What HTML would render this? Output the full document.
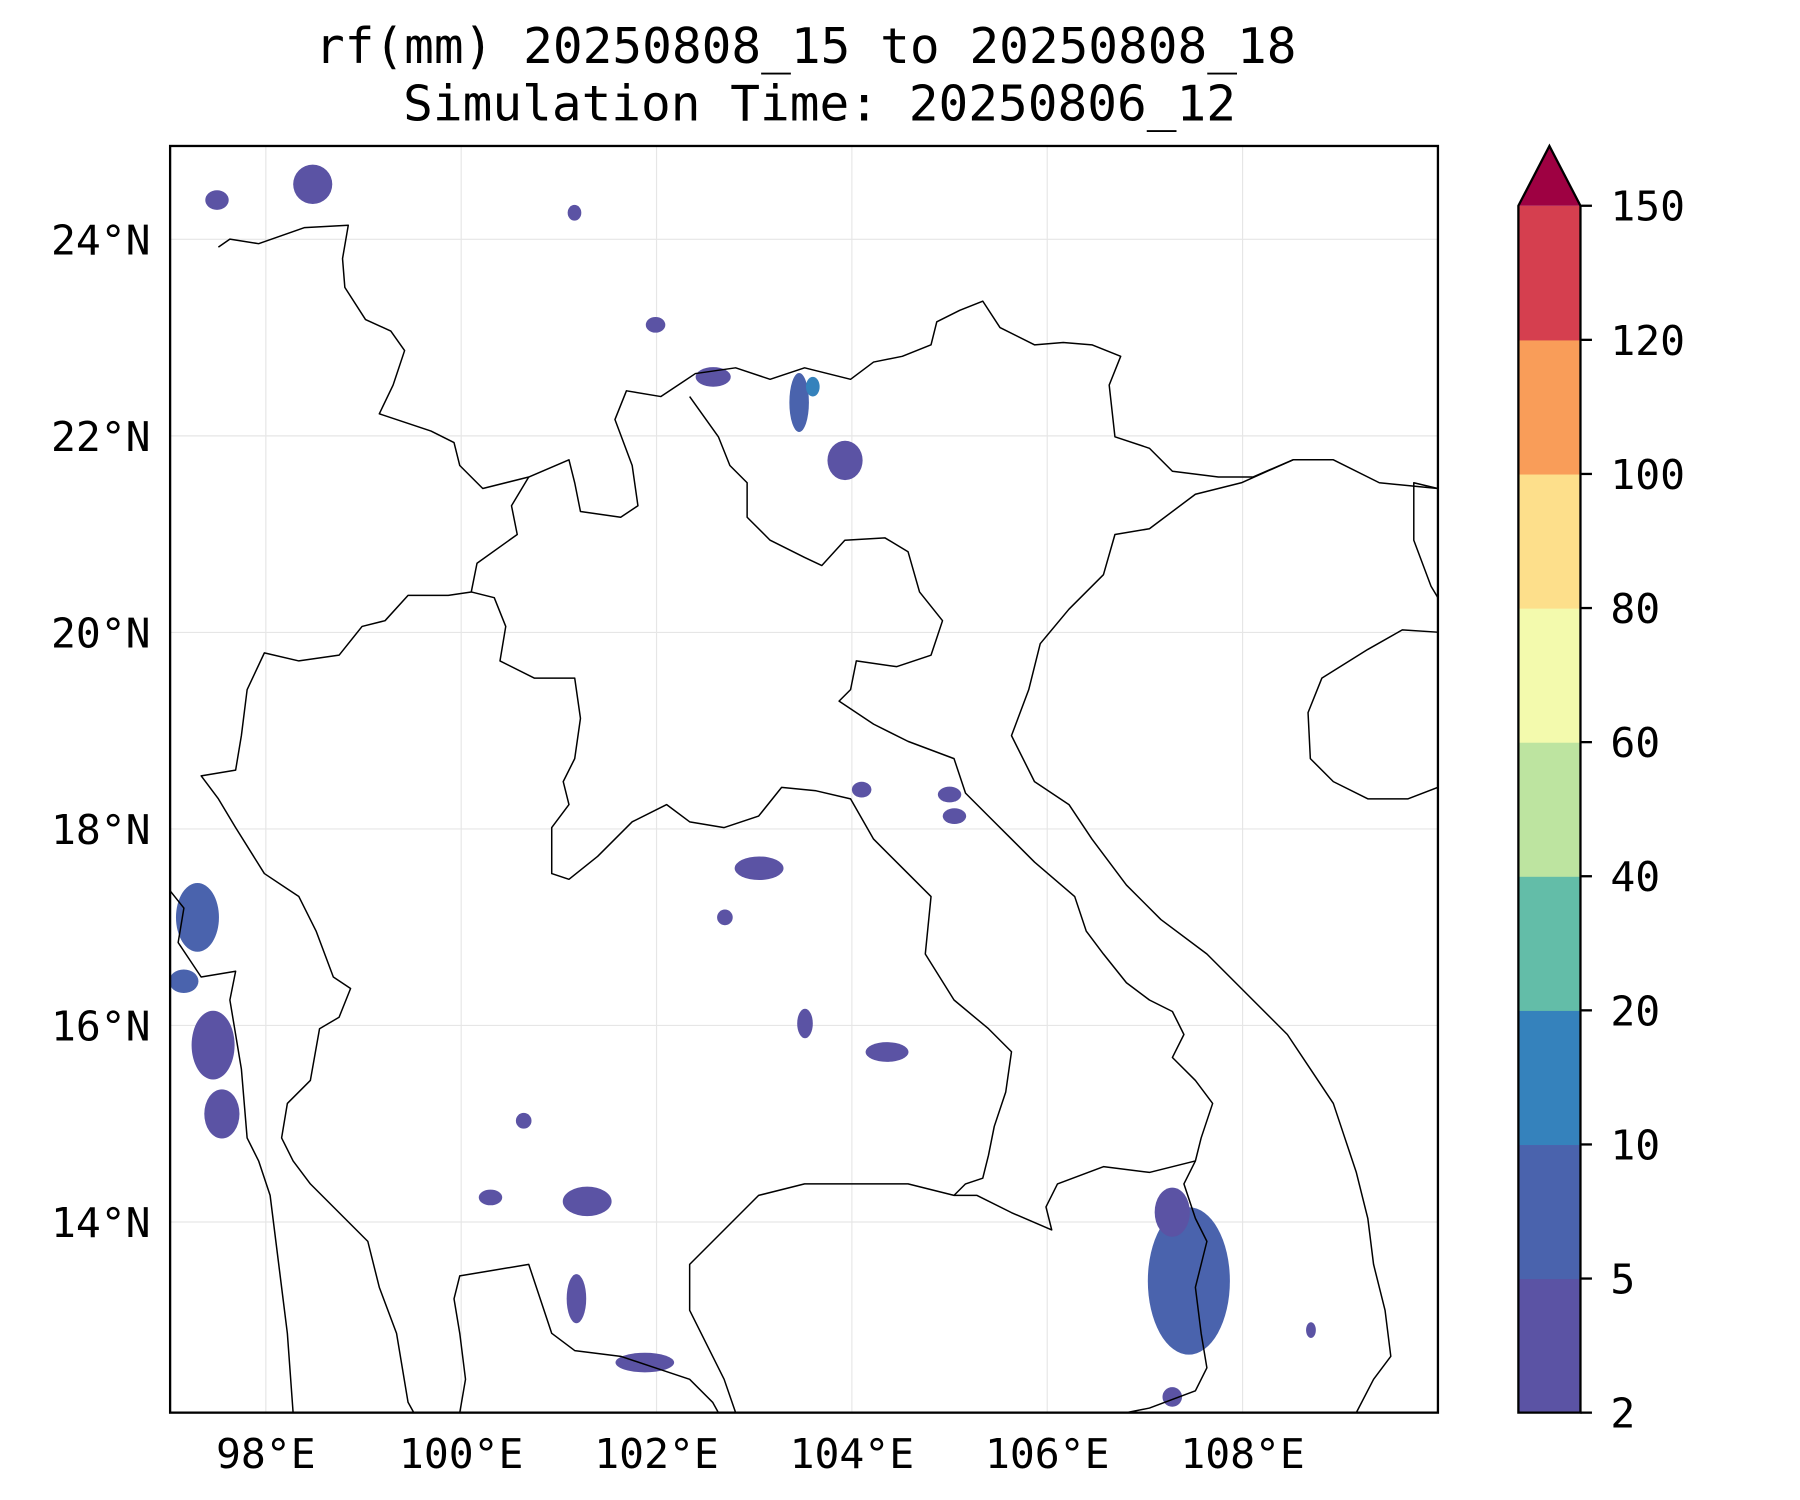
<!DOCTYPE html>
<html><head><meta charset="utf-8"><style>
html,body{margin:0;padding:0;background:#fff}
svg{display:block}
text{font-family:"DejaVu Sans Mono","Liberation Mono",monospace;fill:#000}
</style></head><body>
<svg id="chart" width="1800" height="1500" viewBox="0 0 1566 1305" xmlns="http://www.w3.org/2000/svg">
<rect width="1566" height="1305" fill="#fff"/>
<text x="701" y="55" font-size="43" text-anchor="middle">rf(mm) 20250808_15 to 20250808_18</text>
<text x="713" y="105" font-size="43" text-anchor="middle">Simulation Time: 20250806_12</text>
<defs><clipPath id="mapclip"><rect x="148" y="127" width="1103" height="1102"/></clipPath></defs>
<g id="grid"></g>
<g id="rain" clip-path="url(#mapclip)"></g>
<g id="borders" clip-path="url(#mapclip)" fill="none" stroke="#000" stroke-width="1.3" stroke-linejoin="round"></g>
<rect x="148" y="127" width="1103" height="1102" fill="none" stroke="#000" stroke-width="2"/>
<g id="xticks"></g>
<g id="yticks"></g>
<g id="cbar"></g>
</svg>
<script>
const lonTicks=[98,100,102,104,106,108];
const latTicks=[14,16,18,20,22,24];
const levels=[2,5,10,20,40,60,80,100,120,150];
const colors=['#5b53a4','#4a63ad','#3582bc','#63bda8','#bde4a0','#f3faad','#fddf8b','#f99d59','#d53f4f'];
const extendColor='#9e0142';
// rain blobs: lon, lat, x-radius (deg), y-radius (deg), value (mm)
const rainLon=[98.48,101.16,101.99,102.58,103.46,103.93,103.05,104.36,101.29,101.18,101.88,107.45,107.28,97.3,97.46,97.16,105.05,103.52,100.64,107.28,97.55,103.6,105.0,102.7,100.3,104.1,97.5,108.7];
const rainLat=[24.56,24.27,23.13,22.6,22.34,21.75,17.6,15.73,14.21,13.22,12.57,13.4,14.1,17.1,15.8,16.45,18.13,16.02,15.03,12.22,15.1,22.5,18.35,17.1,14.25,18.4,24.4,12.9];
const rainRx=[0.2,0.07,0.1,0.18,0.1,0.18,0.25,0.22,0.25,0.1,0.3,0.42,0.18,0.22,0.22,0.15,0.12,0.08,0.08,0.1,0.18,0.07,0.12,0.08,0.12,0.1,0.12,0.05];
const rainRy=[0.2,0.08,0.08,0.1,0.3,0.2,0.12,0.1,0.15,0.25,0.1,0.75,0.25,0.35,0.35,0.12,0.08,0.15,0.08,0.1,0.25,0.1,0.08,0.08,0.08,0.08,0.1,0.08];
const rainVal=[4,3,3,4,7,4,4,3,4,4,4,7,4,5,4,8,4,3,3,3,4,12,3,3,3,3,3,3];

const X0=148,X1=1251,Y0=127,Y1=1229,LON0=97.02,LON1=110.0,LAT0=12.06,LAT1=24.95;
function xs(lon){return X0+(lon-LON0)/(LON1-LON0)*(X1-X0);}
function ys(lat){return Y1-(lat-LAT0)/(LAT1-LAT0)*(Y1-Y0);}
const NS='http://www.w3.org/2000/svg';
function mk(tag,attrs,parent){const e=document.createElementNS(NS,tag);for(const k in attrs)e.setAttribute(k,attrs[k]);parent.appendChild(e);return e;}
function colorFor(v){for(let i=0;i<levels.length-1;i++){if(v<levels[i+1])return colors[i];}return extendColor;}

const grid=document.getElementById('grid'),xt=document.getElementById('xticks'),yt=document.getElementById('yticks');
lonTicks.forEach(l=>{
  const g=mk('line',{x1:xs(l),x2:xs(l),y1:Y0,y2:Y1,stroke:'#e6e6e6','stroke-width':1},grid);
  
  
  const t=mk('text',{x:xs(l),y:1277,'font-size':36,'text-anchor':'middle'},xt);
  t.textContent=l+'°E';
  
  
});
latTicks.forEach(l=>{
  const g=mk('line',{x1:X0,x2:X1,y1:ys(l),y2:ys(l),stroke:'#e6e6e6','stroke-width':1},grid);
  
  
  const t=mk('text',{x:131,y:ys(l)+13,'font-size':36,'text-anchor':'end'},yt);
  t.textContent=l+'°N';
  
  
});

const rain=document.getElementById('rain');
rainLon.forEach((lon,i)=>{
  const e=mk('ellipse',{cx:xs(lon),cy:ys(rainLat[i]),rx:rainRx[i]*85,ry:rainRy[i]*85.5,fill:colorFor(rainVal[i])},rain);
  
  
});

const lines=[
 [[190,215],[200,208],[225,212],[265,198],[303,196],[298,225],[300,250],[318,278],[340,288],[352,305],[342,335],[330,360],[375,375],[395,385],[400,405],[420,425],[460,415],[495,400],[500,420],[505,445],[540,450],[555,440],[550,405],[535,365],[545,340],[575,345],[605,325],[640,320],[670,330],[700,320],[720,325],[740,330],[760,315],[785,310],[810,300],[815,280],[835,270],[855,262],[870,285],[900,300],[925,298],[950,300],[975,310],[965,335],[970,380],[1000,390],[1020,410],[1060,415],[1090,415],[1125,400],[1160,400],[1200,420],[1251,425]],
 [[460,415],[445,440],[450,465],[415,490],[410,515],[390,518],[355,518],[335,540],[315,545],[295,570],[260,575],[230,568],[215,600],[210,640],[205,670],[175,675],[190,695],[205,720],[230,760],[260,780],[275,810],[290,850],[305,860],[295,885],[278,895],[270,940],[250,960],[245,990],[255,1010],[270,1030],[300,1060],[320,1080],[330,1120],[345,1160],[355,1220],[360,1229]],
 [[148,775],[160,790],[155,820],[165,835],[175,850],[205,845],[200,870],[210,930],[215,990],[225,1010],[235,1040],[240,1080],[245,1120],[250,1160],[255,1229]],
 [[410,515],[430,520],[440,545],[435,575],[465,590],[500,590],[505,625],[500,660],[490,680],[495,700],[480,720],[480,760],[495,765],[520,745],[550,715],[580,700],[600,715],[630,720],[660,710],[680,685],[710,688],[740,695],[760,730],[790,760],[810,780],[805,830],[830,870],[860,895],[880,915],[875,950],[865,980],[860,1005],[855,1025],[840,1030],[830,1040],[790,1030],[750,1030],[700,1030],[660,1040],[640,1060],[620,1080],[600,1100],[600,1140],[620,1180],[630,1200],[640,1229]],
 [[600,345],[625,380],[635,405],[650,420],[650,450],[670,470],[700,485],[715,492],[735,470],[770,468],[790,480],[800,515],[820,540],[810,570],[780,580],[745,575],[740,600],[730,610],[760,630],[790,645],[830,660],[840,690],[860,710],[880,730],[900,750],[935,780],[945,810],[960,830],[980,855],[1000,870],[1020,880],[1030,900],[1020,920],[1040,940],[1055,960],[1045,990],[1040,1010],[1000,1020],[960,1015],[920,1030],[910,1050],[915,1070],[880,1055],[850,1040],[830,1040]],
 [[1040,1010],[1030,1030],[1040,1060],[1050,1080],[1040,1120],[1045,1160],[1050,1190],[1040,1210],[1000,1225],[980,1229]],
 [[1125,400],[1080,420],[1040,430],[1000,460],[970,465],[960,500],[930,530],[905,560],[895,600],[880,640],[900,680],[930,700],[950,730],[980,770],[1010,800],[1050,830],[1080,860],[1100,880],[1120,900],[1140,930],[1160,960],[1170,990],[1180,1020],[1190,1060],[1195,1100],[1205,1140],[1210,1180],[1195,1200],[1180,1229]],
 [[1251,550],[1220,548],[1190,565],[1150,590],[1138,620],[1140,660],[1160,680],[1190,695],[1225,695],[1251,685]],
 [[1251,425],[1230,420],[1230,470],[1245,510],[1251,520]],
 [[400,1229],[405,1200],[400,1160],[395,1130],[400,1110],[430,1105],[460,1100],[470,1130],[480,1160],[500,1175],[540,1180],[570,1190],[600,1200],[620,1220],[625,1229]]
];
const borders=document.getElementById('borders');
lines.forEach(pts=>{
  const p=mk('polyline',{points:pts.map(q=>q.join(',')).join(' ')},borders);
  
  
});

const cb=document.getElementById('cbar');
const CX0=1321,CX1=1375,CY0=179,CY1=1229,nb=levels.length-1,bh=(CY1-CY0)/nb;
colors.forEach((c,i)=>{
  const r=mk('rect',{x:CX0,y:CY1-(i+1)*bh,width:CX1-CX0,height:bh+0.5,fill:c},cb);
  
  
});
const tri=mk('polygon',{points:`${CX0},${CY0} ${(CX0+CX1)/2},127 ${CX1},${CY0}`,fill:extendColor},cb);


const outline=mk('polygon',{points:`${CX0},${CY1} ${CX0},${CY0} ${(CX0+CX1)/2},127 ${CX1},${CY0} ${CX1},${CY1}`,fill:'none',stroke:'#000','stroke-width':2},cb);


levels.forEach((lv,i)=>{
  const y=CY1-i*bh;
  const tk=mk('line',{x1:CX1,x2:CX1+10,y1:y,y2:y,stroke:'#000','stroke-width':2},cb);
  
  
  const t=mk('text',{x:1401,y:y+13,'font-size':36},cb);
  t.textContent=lv;
  
  
});
</script>
</body></html>
